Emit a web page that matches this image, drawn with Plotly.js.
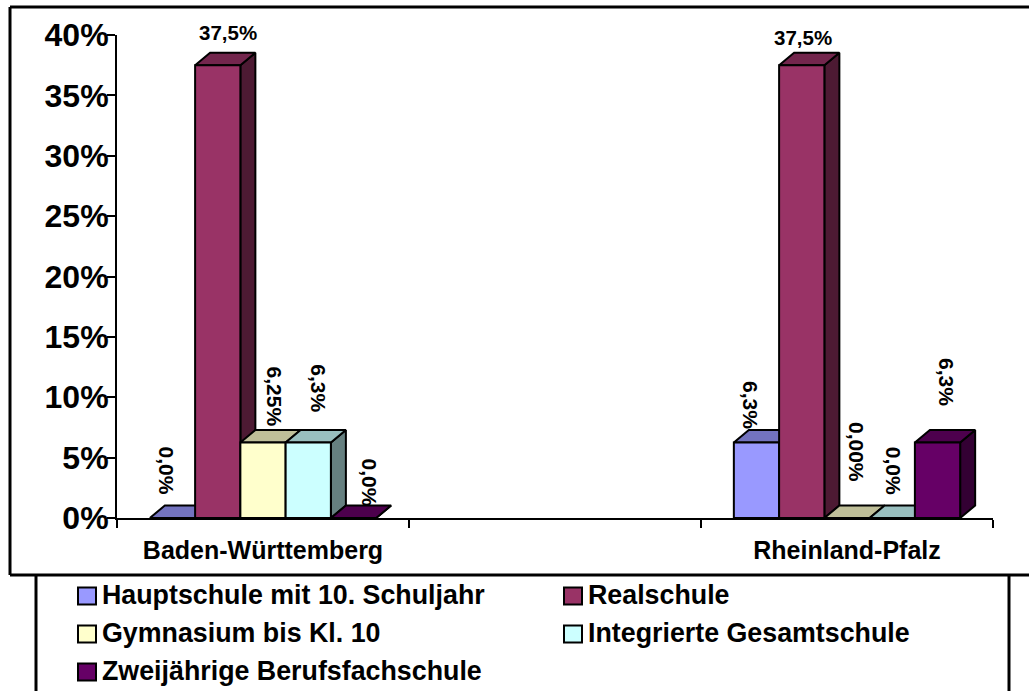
<!DOCTYPE html>
<html><head><meta charset="utf-8">
<script src="https://cdn.plot.ly/plotly-3.0.1.min.js"></script>
<style>html,body{margin:0;padding:0;background:#fff;overflow:hidden}</style>
</head><body><div id="chart" style="width:1029px;height:691px"></div>
<script>
const categories = ["Baden-Württemberg", "", "Rheinland-Pfalz"];
const seriesNames = ["Hauptschule mit 10. Schuljahr", "Realschule", "Gymnasium bis Kl. 10", "Integrierte Gesamtschule", "Zweijährige Berufsfachschule"];
const seriesColors = ["#9999FF", "#993366", "#FFFFCC", "#CCFFFF", "#660066"];
const hauptschule = [0, null, 6.25];
const realschule = [37.5, null, 37.5];
const gymnasium = [6.25, null, 0];
const gesamtschule = [6.25, null, 0];
const berufsfachschule = [0, null, 6.25];
const valueLabelsBW = ["0,0%", "37,5%", "6,25%", "6,3%", "0,0%"];
const valueLabelsRP = ["6,3%", "37,5%", "0,00%", "0,0%", "6,3%"];
const yTicks = [0, 5, 10, 15, 20, 25, 30, 35, 40];

const allSeries = [hauptschule, realschule, gymnasium, gesamtschule, berufsfachschule];
const W = 1029, H = 691, L = 117, R = 993, T = 35, B = 518;
const barW = 0.155, depthX = 15 / 292, depthY = 12.5 / (483 / 40);
const pxX = p => (p - L) / (R - L);
const pxY = p => (B - p) / (B - T);

function shade(hex, f) {
  const n = parseInt(hex.slice(1), 16);
  return "rgb(" + [n >> 16 & 255, n >> 8 & 255, n & 255].map(v => Math.round(v * f)).join(",") + ")";
}
function face(xs, ys, color, name) {
  return { type: "scatter", mode: "lines", x: xs, y: ys, fill: "toself", fillcolor: color,
    line: { color: "#000", width: 2, shape: "linear" }, hoverinfo: "name", name: name,
    showlegend: false, cliponaxis: false };
}
const traces = [];
categories.forEach((cat, c) => {
  if (!cat) return;
  allSeries.forEach((vals, s) => {
    const v = vals[c], x0 = c + 0.5 + (s - 2.5) * barW, x1 = x0 + barW, col = seriesColors[s], nm = seriesNames[s];
    traces.push(face([x1, x1 + depthX, x1 + depthX, x1, x1], [0, depthY, v + depthY, v, 0], shade(col, 0.5), nm));
    traces.push(face([x0, x0 + depthX, x1 + depthX, x1, x0], [v, v + depthY, v + depthY, v, v], shade(col, 0.75), nm));
    if (v > 0) traces.push(face([x0, x1, x1, x0, x0], [0, 0, v, v, 0], col, nm));
  });
});

// label centre positions in pixels relative to the bar's top-front centre
const labelOffsets = [
  [[-5, -47], [10, -33], [11, -46], [10, -54], [16, -36]],
  [[-6, -37], [1, -28], [10, -66], [2, -47], [9, -61]]
];
const anns = [];
[valueLabelsBW, valueLabelsRP].forEach((labels, g) => {
  const c = g === 0 ? 0 : 2;
  labels.forEach((t, s) => {
    const v = allSeries[s][c], horiz = s === 1;
    anns.push({ xref: "x", yref: "y", x: c + 0.5 + (s - 2) * barW, y: v, text: t, showarrow: false,
      xanchor: "center", yanchor: "middle", textangle: horiz ? 0 : 90,
      xshift: labelOffsets[g][s][0], yshift: -labelOffsets[g][s][1],
      font: { family: "Liberation Sans", size: horiz ? 20.5 : 21, color: "#000", weight: 700 } });
  });
});

// legend
const legendCells = [[78, 596], [564, 596], [78, 634], [564, 634], [78, 672]];
const shapes = [];
seriesNames.forEach((n, i) => {
  const [lx, ly] = legendCells[i];
  shapes.push({ type: "rect", xref: "x domain", yref: "y domain",
    x0: pxX(lx), x1: pxX(lx + 18), y0: pxY(ly + 8.5), y1: pxY(ly - 8.5),
    fillcolor: seriesColors[i], line: { color: "#000", width: 2 } });
  anns.push({ xref: "paper", yref: "paper", x: pxX(lx + 22), y: pxY(ly - 1), text: n, showarrow: false,
    xanchor: "left", yanchor: "middle",
    font: { family: "Liberation Sans", size: 26.8, color: "#000", weight: 700 } });
});
const frameLine = { color: "#000", width: 3 };
[[10, 7, 1029, 7], [10, 7, 10, 575], [10, 575, 1029, 575], [36, 575, 36, 691], [1009, 575, 1009, 691]].forEach(s => {
  shapes.push({ type: "line", xref: "x domain", yref: "y domain", x0: pxX(s[0]), x1: pxX(s[2]), y0: pxY(s[1]), y1: pxY(s[3]), line: frameLine });
});
Plotly.newPlot("chart", traces, {
  width: W, height: H, showlegend: false, paper_bgcolor: "#fff", plot_bgcolor: "#fff",
  margin: { l: L, r: W - R, t: T, b: H - B, pad: 0 },
  font: { family: "Liberation Sans", color: "#000" },
  xaxis: { range: [0, 3], showgrid: false, zeroline: false, showline: true, linecolor: "#000", linewidth: 2,
    tickmode: "array", tickvals: [0.5, 2.5], ticktext: [categories[0], categories[2]], ticks: "", ticklen: 0,
    ticklabelstandoff: 9, tickfont: { family: "Liberation Sans", size: 25, color: "#000", weight: 700 },
    minor: { tickmode: "array", tickvals: [0, 1, 2, 3], ticks: "outside", ticklen: 8, tickwidth: 2, tickcolor: "#000", showgrid: false } },
  yaxis: { range: [0, 40], showgrid: false, zeroline: false, showline: true, linecolor: "#000", linewidth: 2,
    tickmode: "array", tickvals: yTicks, ticktext: yTicks.map(t => t + "%"), ticks: "outside", ticklen: 8, tickwidth: 2, tickcolor: "#000",
    ticklabelstandoff: -8, tickfont: { family: "Liberation Sans", size: 32, color: "#000", weight: 700 } },
  shapes: shapes, annotations: anns
}, { displayModeBar: false, staticPlot: true });
</script>
</body></html>
